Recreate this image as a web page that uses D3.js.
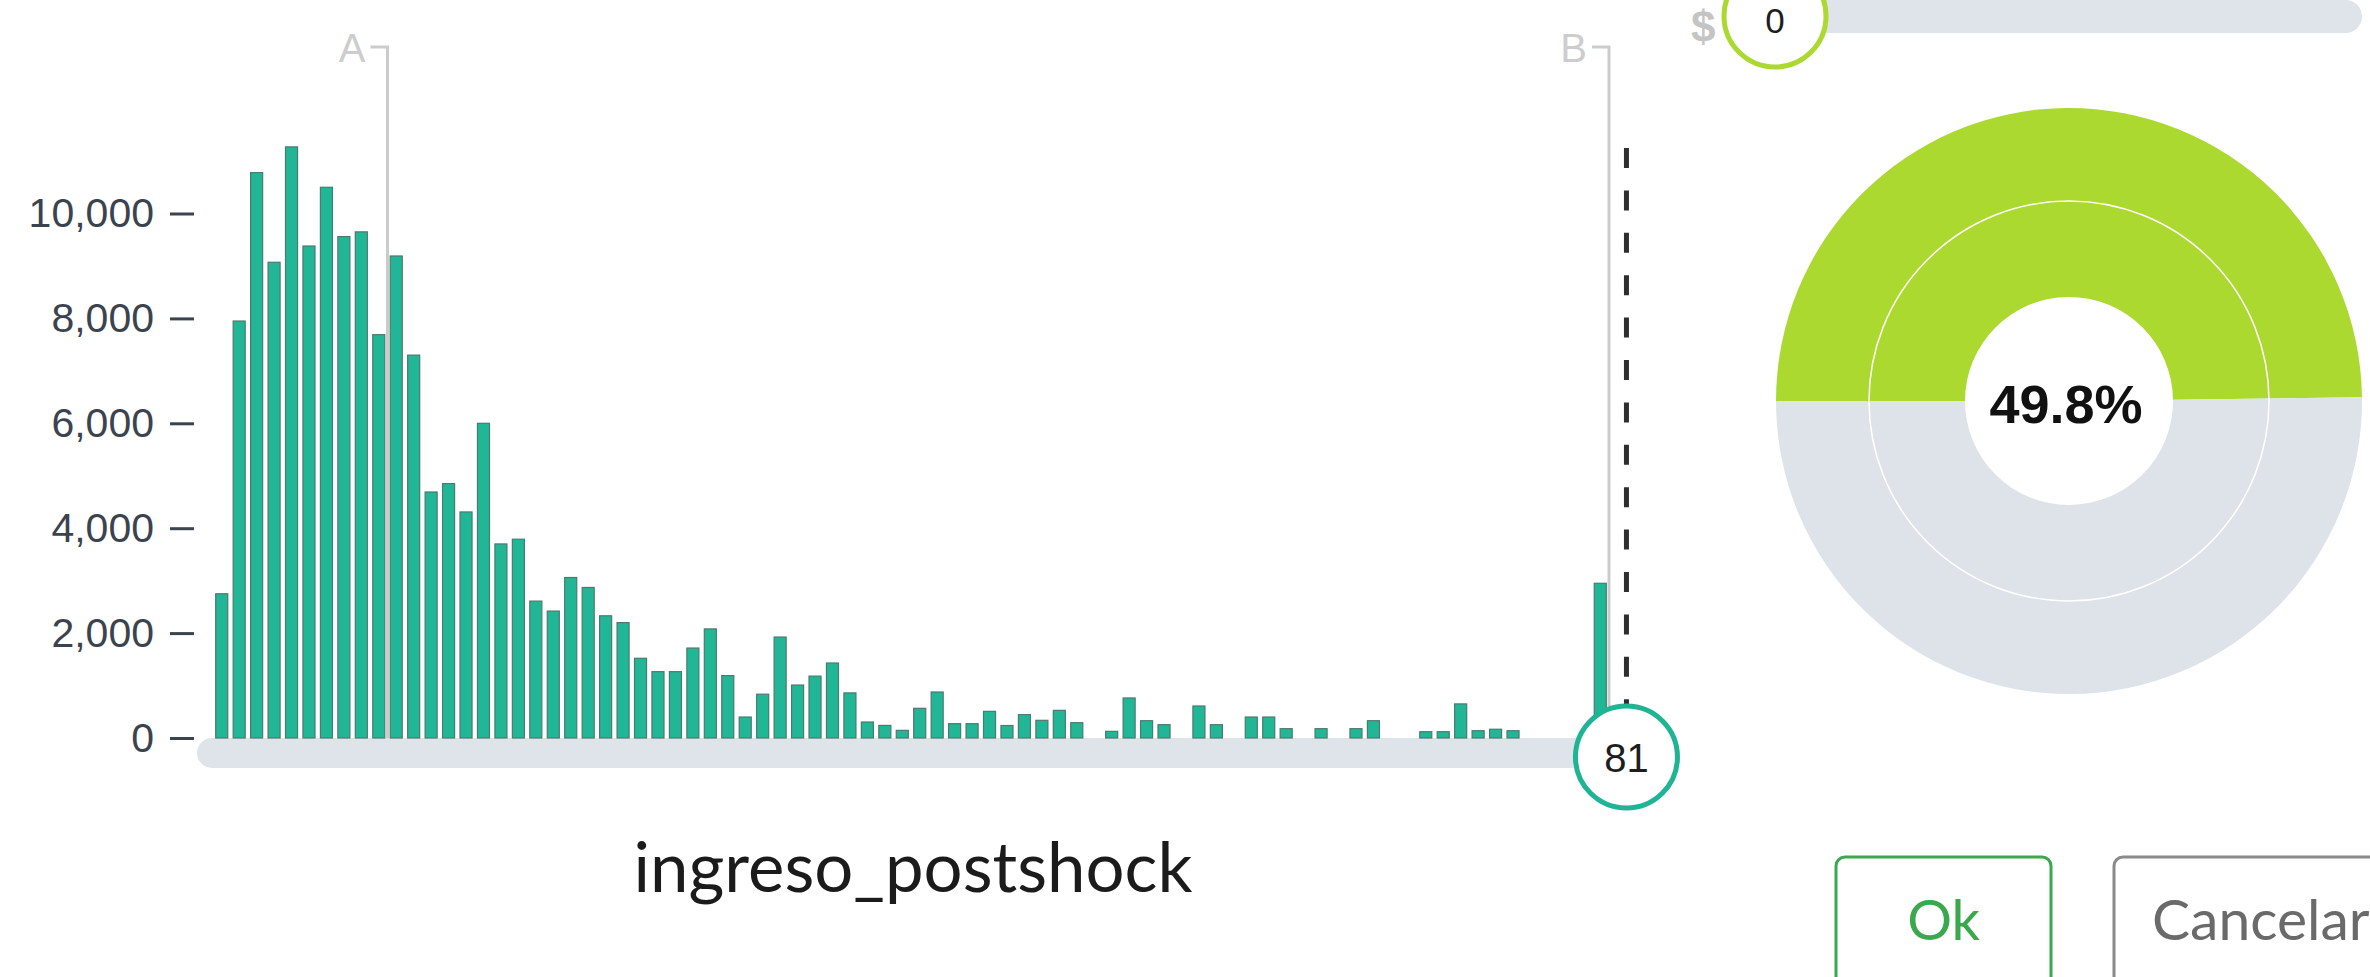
<!DOCTYPE html>
<html>
<head>
<meta charset="utf-8">
<script src="https://cdn.jsdelivr.net/npm/d3@7"></script>
<style>
  html, body { margin: 0; padding: 0; background: #ffffff; overflow: hidden; }
  svg { display: block; }
</style>
</head>
<body>
<svg id="chart" width="2370" height="977"></svg>
<script>
// ---------------- data ----------------
const binIndex = d3.range(80); // histogram bins of ingreso_postshock
const binCounts = [
  2750, 7950, 10780, 9070, 11270, 9380, 10500, 9560, 9650, 7690,
  9190, 7300, 4690, 4850, 4310, 6000, 3700, 3790, 2610, 2420,
  3060, 2870, 2330, 2200, 1520, 1265, 1265, 1715, 2080, 1190,
  400, 835, 1925, 1010, 1180, 1430, 860, 305, 240, 146,
  566, 877, 273, 273, 508, 238, 445, 337, 527, 292,
  0, 127, 763, 330, 254, 0, 610, 254, 0, 400,
  400, 178, 0, 178, 0, 178, 330, 0, 0, 120,
  120, 650, 139, 167, 139, 0, 0, 0, 0, 2950
];
const yTickValues = [0, 2000, 4000, 6000, 8000, 10000];
const markerLabels = ["A", "B"];
const markerBins = [10, 80];
const rangeHandleValue = 81;
const moneyHandleValue = 0;
const xTitle = "ingreso_postshock";
const donutLabels = ["dentro", "fuera"];
const donutShares = [49.8, 50.2];
const buttonLabels = ["Ok", "Cancelar"];

// ---------------- styles ----------------
const barFill = "#21b796", barStroke = "#4a7b6e";
const axisColor = "#3b434e";
const markerColor = "#cbcbcb";
const trackColor = "#dfe3ea";
const tealHandle = "#1fb493";
const limeColor = "#acd92f";
const greyRing = "#dee3ea";
const okColor = "#3aa84c";

const svg = d3.select("#chart");

// ---------------- scales ----------------
const x = d3.scaleBand().domain(binIndex).range([213, 1609]).paddingInner(0.31).paddingOuter(0.155);
const xb = d3.scaleLinear().domain([0, 80]).range([213, 1609]);
const y = d3.scaleLinear().domain([0, 10000]).range([738, 213.5]);

// ---------------- bottom slider track ----------------
svg.append("rect")
  .attr("x", 197).attr("y", y(0)).attr("width", xb(rangeHandleValue) - 197).attr("height", 30)
  .attr("rx", 15).attr("fill", trackColor);

// ---------------- bars ----------------
svg.append("g").selectAll("rect")
  .data(binIndex.filter(i => binCounts[i] > 0))
  .join("rect")
  .attr("x", i => x(i))
  .attr("y", i => y(binCounts[i]))
  .attr("width", x.bandwidth())
  .attr("height", i => y(0) - y(binCounts[i]))
  .attr("fill", barFill)
  .attr("stroke", barStroke)
  .attr("stroke-width", 1.2);

// ---------------- y axis ----------------
const yAxis = svg.append("g")
  .attr("transform", "translate(194,0)")
  .call(d3.axisLeft(y).tickValues(yTickValues).tickSize(24).tickPadding(16).tickFormat(d3.format(",")));
yAxis.select(".domain").remove();
yAxis.selectAll(".tick line").attr("stroke", axisColor).attr("stroke-width", 3);
yAxis.selectAll(".tick text")
  .attr("fill", axisColor)
  .style("font-family", "'Liberation Sans', Arial, sans-serif")
  .style("font-size", "41px");

// ---------------- A / B markers ----------------
markerLabels.forEach((lab, k) => {
  const mx = xb(markerBins[k]);
  svg.append("path")
    .attr("d", `M${mx - 17},47 H${mx} V${y(0)}`)
    .attr("fill", "none").attr("stroke", markerColor).attr("stroke-width", 3);
  svg.append("text")
    .attr("x", mx - 22).attr("y", 62)
    .attr("text-anchor", "end")
    .attr("fill", "#cdcdcd")
    .style("font-family", "'Liberation Sans', Arial, sans-serif")
    .style("font-size", "40px")
    .text(lab);
});

// ---------------- dashed handle line + handle ----------------
const hx = xb(rangeHandleValue);
svg.append("line")
  .attr("x1", hx).attr("x2", hx).attr("y1", 148).attr("y2", 757)
  .attr("stroke", "#2e2e2e").attr("stroke-width", 5).attr("stroke-dasharray", "20 22.4");
svg.append("circle")
  .attr("cx", hx).attr("cy", 757).attr("r", 51)
  .attr("fill", "#fff").attr("stroke", tealHandle).attr("stroke-width", 5);
svg.append("text")
  .attr("x", hx).attr("y", 772).attr("text-anchor", "middle")
  .attr("fill", "#1d1d1d")
  .style("font-family", "'Liberation Sans', Arial, sans-serif")
  .style("font-size", "40px")
  .text(rangeHandleValue);

// ---------------- x title ----------------
const title = svg.append("text")
  .attr("x", 913).attr("y", 892).attr("text-anchor", "middle")
  .attr("fill", "#1b1b1b")
  .style("font-family", "Lato, 'Open Sans', sans-serif")
  .style("font-size", "58px")
  .text(xTitle);
{
  const w = title.node().getComputedTextLength();
  if (w > 0) title.style("font-size", (58 * 559 / w).toFixed(2) + "px");
}

// ---------------- top money slider ----------------
svg.append("rect")
  .attr("x", 1775).attr("y", 0).attr("width", 2362 - 1775).attr("height", 33)
  .attr("rx", 16.5).attr("fill", trackColor);
svg.append("text")
  .attr("x", 1691).attr("y", 42)
  .attr("fill", "#c4c4c4")
  .style("font-family", "'Liberation Sans', Arial, sans-serif")
  .style("font-weight", "bold")
  .style("font-size", "44px")
  .text("$");
svg.append("circle")
  .attr("cx", 1775).attr("cy", 16).attr("r", 51)
  .attr("fill", "#fff").attr("stroke", limeColor).attr("stroke-width", 5);
svg.append("text")
  .attr("x", 1775).attr("y", 33).attr("text-anchor", "middle")
  .attr("fill", "#1d1d1d")
  .style("font-family", "'Liberation Sans', Arial, sans-serif")
  .style("font-size", "35px")
  .text(moneyHandleValue);

// ---------------- donut ----------------
const cx = 2069, cy = 401;
const pie = d3.pie().sort(null).value(d => d)
  .startAngle(-Math.PI / 2).endAngle(1.5 * Math.PI);
const slices = pie(donutShares);
const ringColors = [limeColor, greyRing];
const rings = [[104, 200], [200, 293]];
const dg = svg.append("g").attr("transform", `translate(${cx},${cy})`);
rings.forEach(([r0, r1]) => {
  const arc = d3.arc().innerRadius(r0).outerRadius(r1);
  dg.append("g").selectAll("path")
    .data(slices)
    .join("path")
    .attr("d", arc)
    .attr("fill", (d, i) => ringColors[i]);
});
dg.append("circle").attr("r", 200).attr("fill", "none").attr("stroke", "#fff").attr("stroke-width", 1.5);
dg.append("text")
  .attr("x", -3).attr("y", 22).attr("text-anchor", "middle")
  .attr("fill", "#111")
  .style("font-family", "'Liberation Sans', Arial, sans-serif")
  .style("font-weight", "bold")
  .style("font-size", "54px")
  .text(d3.format(".1f")(donutShares[0]) + "%");

// ---------------- buttons ----------------
svg.append("rect")
  .attr("x", 1836).attr("y", 857).attr("width", 215).attr("height", 170)
  .attr("rx", 9).attr("fill", "#fff").attr("stroke", okColor).attr("stroke-width", 3);
svg.append("text")
  .attr("x", 1943.5).attr("y", 940).attr("text-anchor", "middle")
  .attr("fill", okColor)
  .style("font-family", "Lato, 'Open Sans', sans-serif")
  .style("font-size", "56px")
  .text(buttonLabels[0]);
svg.append("rect")
  .attr("x", 2114).attr("y", 857).attr("width", 400).attr("height", 170)
  .attr("rx", 9).attr("fill", "#fff").attr("stroke", "#8a8a8a").attr("stroke-width", 3);
svg.append("text")
  .attr("x", 2152).attr("y", 940)
  .attr("fill", "#6a6a6a")
  .style("font-family", "Lato, 'Open Sans', sans-serif")
  .style("font-size", "57px")
  .text(buttonLabels[1]);
</script>
</body>
</html>
